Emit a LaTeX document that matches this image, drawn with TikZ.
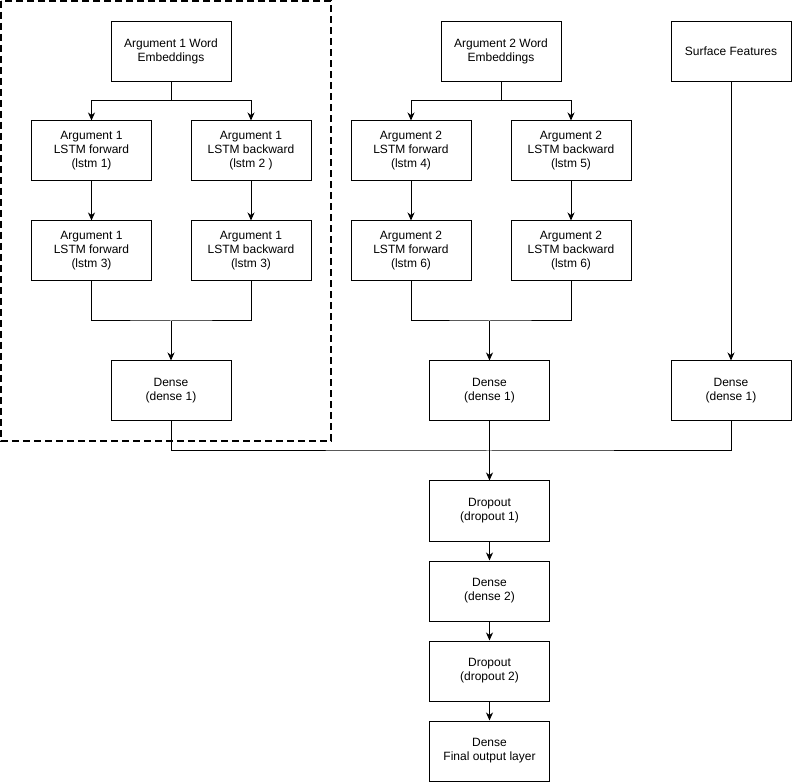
\documentclass[tikz,border=0pt]{standalone}
\usepackage{fontspec}
\setmainfont{Liberation Sans}
\usepackage{tikz}
\usetikzlibrary{arrows.meta, positioning, calc}
\usepackage{xcolor}
\definecolor{linegray}{RGB}{0, 0, 0}

\begin{document}
\begin{tikzpicture}[x=1pt, y=1pt,
  every node/.style={font=\fontsize{12}{14}\selectfont},
  layer/.style={draw, line width=1pt, minimum width=120pt, minimum height=60pt,
    align=center, inner sep=0pt},
  arr/.style={-{Stealth[length=8pt, width=7pt, inset=2.5pt]}, line width=1pt},
  wire/.style={line width=1pt}]
\useasboundingbox (0,0) rectangle (793,-783);

% ── Argument 1 branch (dashed group) ────────────────────────────
\draw[line width=2pt, dash pattern=on 7pt off 4pt] (1,-1) rectangle (331,-441);
\node[layer] (emb1) at (171,-51.5) {Argument 1 Word\\Embeddings};
\node[layer] (fw1) at (91.5,-151) {Argument 1\\LSTM forward\\(lstm 1)};
\node[layer] (bw1) at (251,-151) {Argument 1\\LSTM backward\\(lstm 2 )};
\node[layer] (fw3) at (91.5,-251) {Argument 1\\LSTM forward\\(lstm 3)};
\node[layer] (bw3) at (251,-251) {Argument 1\\LSTM backward\\(lstm 3)};
\node[layer] (densea) at (171,-391) {Dense\\(dense 1)};
\coordinate (s1) at (171,-101);
\coordinate (m1) at (171,-321);

\draw[wire] (emb1.south) -- (s1);
\draw[arr] (s1) -| (fw1.north);
\draw[arr] (s1) -| (bw1.north);
\draw[arr] (fw1) -- (fw3);
\draw[arr] (bw1) -- (bw3);
\draw[wire] (fw3.south) |- (m1) -| (bw3.south);
\draw[arr] (m1) -- (densea.north);

% ── Argument 2 branch ───────────────────────────────────────────
\node[layer] (emb2) at (501,-51.5) {Argument 2 Word\\Embeddings};
\node[layer] (fw4) at (411,-151) {Argument 2\\LSTM forward\\(lstm 4)};
\node[layer] (bw5) at (571,-151) {Argument 2\\LSTM backward\\(lstm 5)};
\node[layer] (fw6) at (411,-251) {Argument 2\\LSTM forward\\(lstm 6)};
\node[layer] (bw6) at (571,-251) {Argument 2\\LSTM backward\\(lstm 6)};
\node[layer] (denseb) at (489.5,-391) {Dense\\(dense 1)};
\coordinate (s2) at (501,-101);
\coordinate (m2) at (489.5,-321);

\draw[wire] (emb2.south) -- (s2);
\draw[arr] (s2) -| (fw4.north);
\draw[arr] (s2) -| (bw5.north);
\draw[arr] (fw4) -- (fw6);
\draw[arr] (bw5) -- (bw6);
\draw[wire] (fw6.south) |- (m2) -| (bw6.south);
\draw[arr] (m2) -- (denseb.north);

% ── Surface features ────────────────────────────────────────────
\node[layer] (surf) at (731,-51.5) {Surface Features};
\node[layer] (densec) at (731,-391) {Dense\\(dense 1)};
\draw[arr] (surf) -- (densec);

% ── Merged head ─────────────────────────────────────────────────
\node[layer] (drop1) at (489.5,-511) {Dropout\\(dropout 1)};
\node[layer] (dense2) at (489.5,-591) {Dense\\(dense 2)};
\node[layer] (drop2) at (489.5,-671) {Dropout\\(dropout 2)};
\node[layer] (final) at (489.5,-751) {Dense\\Final output layer};
\coordinate (j) at (489.5,-451);

\draw[wire] (densea.south) |- (j) -| (densec.south);
\draw[arr] (denseb) -- (drop1);
\draw[arr] (drop1) -- (dense2);
\draw[arr] (dense2) -- (drop2);
\draw[arr] (drop2) -- (final);

\end{tikzpicture}
\end{document}
